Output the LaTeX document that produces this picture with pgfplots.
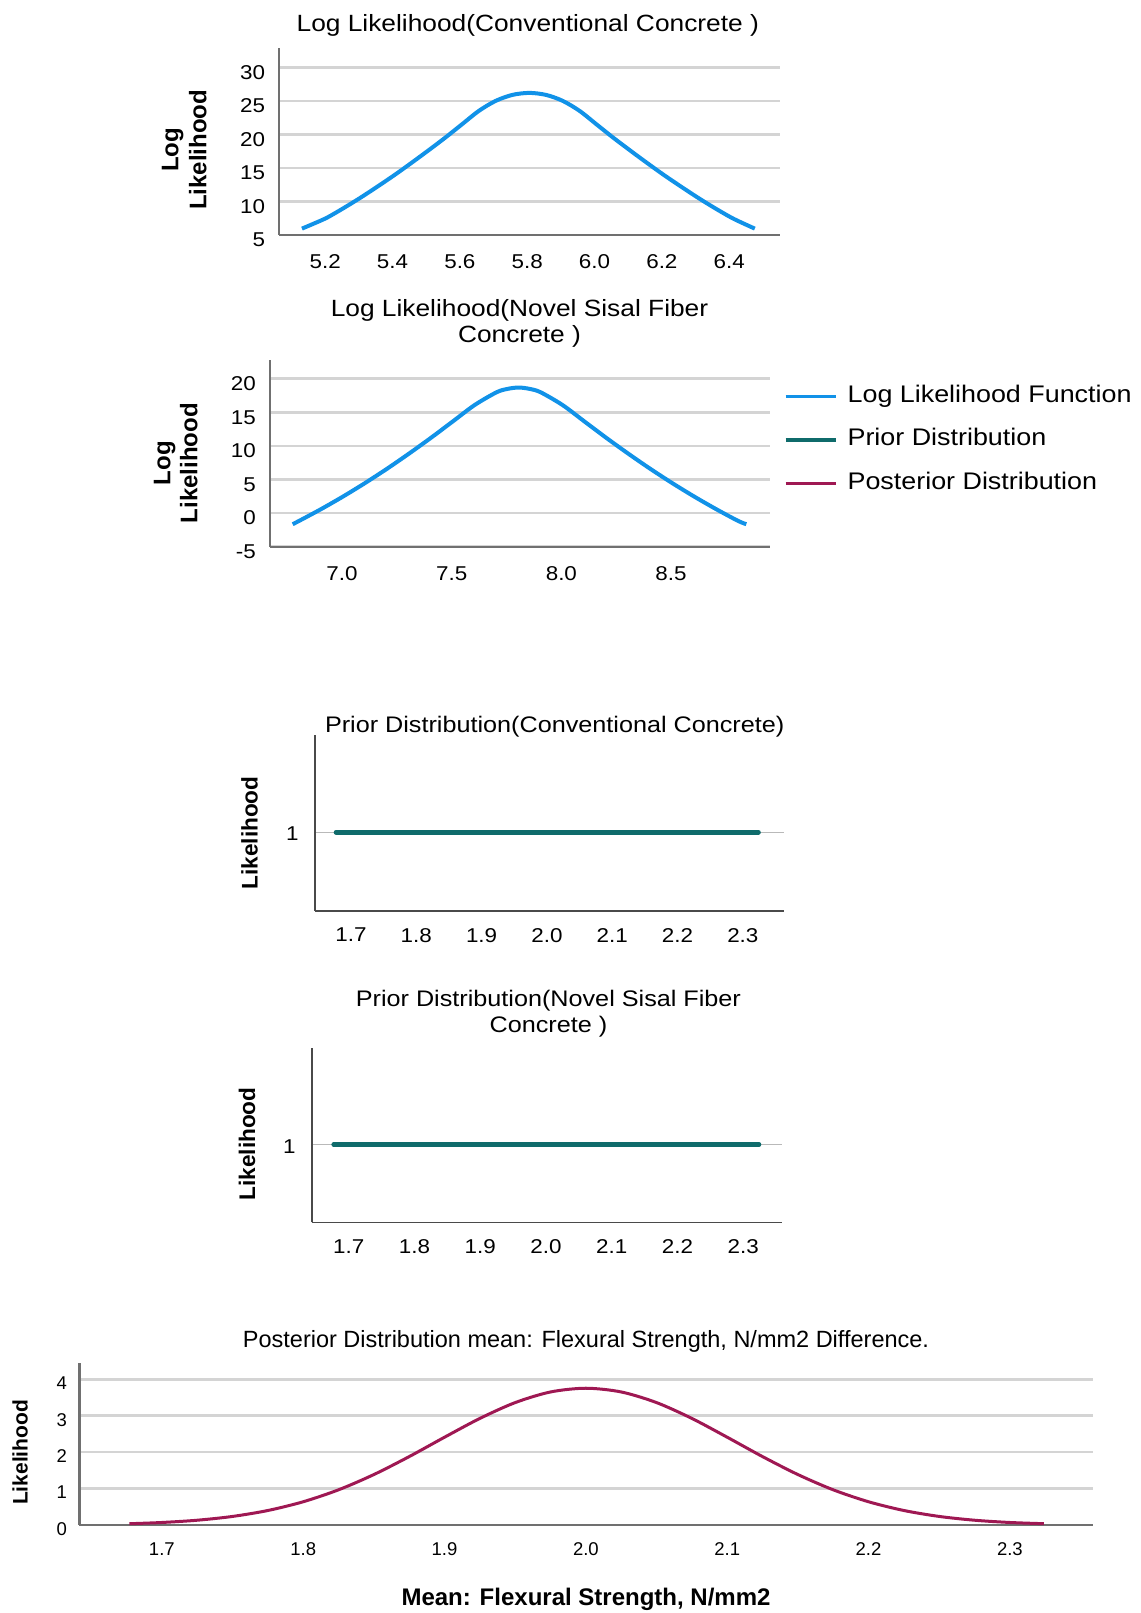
\documentclass[border=0pt]{standalone}
\usepackage{fontspec}
\setmainfont{Liberation Sans}
\newfontfamily\widefont{Liberation Sans}[FakeStretch=1.12]
\usepackage{pgfplots}
\pgfplotsset{compat=1.18}
\definecolor{llblue}{HTML}{1192E8}
\definecolor{priorteal}{HTML}{0F6B6B}
\definecolor{postmag}{HTML}{9F1853}
\definecolor{gridgray}{HTML}{D4D4D4}
\definecolor{axgray}{HTML}{707070}
\definecolor{axdark}{HTML}{4A4A4A}

\pgfplotsset{
  spss/.style={
    scale only axis, anchor=south west,
    axis x line=bottom, axis y line=left,
    axis line style={axgray, line width=1pt, -},
    major tick length=0pt,
    ymajorgrids, grid style={gridgray, line width=1.3pt},
    /pgf/number format/assume math mode=true,
    xticklabel style={/pgf/number format/fixed, /pgf/number format/fixed zerofill, /pgf/number format/precision=1},
    clip=false,
  },
  topfont/.style={ticklabel style={font=\widefont\fontsize{10}{12}\selectfont},
    xticklabel style={yshift=-6.4pt}, yticklabel style={yshift=-2.5pt, xshift=-3.4pt}},
  priorfont/.style={ticklabel style={font=\widefont\fontsize{10}{12}\selectfont},
    xticklabel style={yshift=-5.2pt}, yticklabel style={xshift=-4.6pt, yshift=-0.8pt},
    axis line style={axdark, line width=0.9pt, -},
    grid style={gray!55, line width=0.6pt}},
}

\begin{document}
\begin{tikzpicture}
\useasboundingbox (0,0) rectangle (570.5pt,806.5pt);

% ---------- Chart 1: Log likelihood, conventional concrete
\begin{axis}[spss, topfont, at={(139.45pt,689pt)}, width=250.4pt, height=93.5pt,
  xmin=5.0625, xmax=6.55, ymin=5, ymax=32.9,
  xtick={5.2,5.4,5.6,5.8,6.0,6.2,6.4}, ytick={5,10,15,20,25,30}]
\addplot[llblue, line width=2pt, smooth, tension=0.5] coordinates {
(5.131,5.95) (5.1685,6.75) (5.206,7.6) (5.256,9.05) (5.306,10.6) (5.356,12.25)
(5.406,13.95) (5.456,15.75) (5.506,17.6) (5.556,19.5) (5.606,21.5) (5.656,23.5)
(5.706,25.0) (5.756,25.9) (5.806,26.2) (5.856,25.9) (5.906,25.0) (5.956,23.5)
(6.006,21.5) (6.056,19.5) (6.106,17.6) (6.156,15.75) (6.206,13.95) (6.256,12.25)
(6.306,10.6) (6.356,9.05) (6.406,7.6) (6.441,6.75) (6.476,5.95)};
\end{axis}

% ---------- Chart 2: Log likelihood, novel sisal fiber concrete
\begin{axis}[spss, topfont, at={(134.8pt,533.15pt)}, width=250.2pt, height=93.35pt,
  xmin=6.67, xmax=8.951, ymin=-5, ymax=22.8,
  xtick={7.0,7.5,8.0,8.5}, ytick={-5,0,5,10,15,20},
  legend style={at={(1.027,0.866)}, anchor=north west, draw=none, fill=none,
    inner sep=0pt, row sep=10.75pt, column sep=5.25pt,
    nodes={inner sep=0pt, text height=8.5pt, text depth=2.5pt,
      font=\widefont\fontsize{12}{14}\selectfont}},
  legend cell align=left,
  legend image code/.code={\draw[#1, line width=1.6pt] (0pt,0pt) -- (25pt,0pt);}]
\addplot[llblue, line width=2pt, smooth, tension=0.5] coordinates {
(6.775,-1.65) (6.805,-1.15) (6.905,0.6) (7.005,2.475) (7.105,4.475) (7.205,6.6)
(7.305,8.85) (7.405,11.2) (7.505,13.65) (7.605,16.1) (7.705,18.0) (7.755,18.5)
(7.805,18.7) (7.855,18.5) (7.905,18.0) (8.005,16.1) (8.105,13.65) (8.205,11.2)
(8.305,8.85) (8.405,6.6) (8.505,4.475) (8.605,2.475) (8.705,0.6) (8.805,-1.15)
(8.843,-1.65)};
\addlegendentry{Log Likelihood Function}
\addlegendimage{priorteal}
\addlegendentry{Prior Distribution}
\addlegendimage{postmag}
\addlegendentry{Posterior Distribution}
\end{axis}

% ---------- Chart 3: Prior, conventional concrete
\begin{axis}[spss, priorfont, at={(157.4pt,351.15pt)}, width=234.6pt, height=87.85pt,
  xmin=1.6446, xmax=2.363, ymin=0.5, ymax=1.62,
  xtick={1.7,1.8,1.9,2.0,2.1,2.2,2.3}, ytick={1}]
\addplot[priorteal, line width=2.3pt, line cap=round] coordinates {(1.677,1) (2.324,1)};
\end{axis}

% ---------- Chart 4: Prior, novel sisal fiber concrete
\begin{axis}[spss, priorfont, at={(155.9pt,195.25pt)}, width=235.1pt, height=87.25pt,
  xmin=1.6437, xmax=2.359, ymin=0.5, ymax=1.62,
  xtick={1.7,1.8,1.9,2.0,2.1,2.2,2.3}, ytick={1}]
\addplot[priorteal, line width=2.3pt, line cap=round] coordinates {(1.677,1) (2.324,1)};
\end{axis}

% ---------- Chart 5: Posterior distribution
\begin{axis}[spss, at={(39.65pt,44pt)}, width=507pt, height=80.85pt,
  xmin=1.6416, xmax=2.359, ymin=0, ymax=4.44,
  xtick={1.7,1.8,1.9,2.0,2.1,2.2,2.3}, ytick={0,1,2,3,4},
  ticklabel style={font=\fontsize{9.25}{11}\selectfont},
  xticklabel style={yshift=-5.3pt}, yticklabel style={yshift=-2pt, xshift=-2.7pt},
  axis line style={axgray, line width=1.3pt, -}]
\addplot[postmag, line width=1.5pt, smooth] coordinates {
(1.677,0.035) (1.70,0.069) (1.725,0.131) (1.75,0.235) (1.775,0.398)
(1.80,0.638) (1.825,0.966) (1.85,1.385) (1.875,1.878) (1.90,2.410)
(1.925,2.926) (1.95,3.361) (1.975,3.653) (2.00,3.755) (2.025,3.653)
(2.05,3.361) (2.075,2.926) (2.10,2.410) (2.125,1.878) (2.15,1.385)
(2.175,0.966) (2.20,0.638) (2.225,0.398) (2.25,0.235) (2.275,0.131)
(2.30,0.069) (2.324,0.036)};
\end{axis}

% ---------- Titles and axis labels
\node[font=\widefont\fontsize{11.75}{14}\selectfont] at (263.9pt,794pt)
  {Log Likelihood(Conventional Concrete )};
\node[font=\widefont\fontsize{11.75}{13.35}\selectfont, align=center] at (259.75pt,644.8pt)
  {Log Likelihood(Novel Sisal Fiber\\Concrete )};
\node[font=\widefont\fontsize{11.25}{13.5}\selectfont] at (277.35pt,443.3pt)
  {Prior Distribution(Conventional Concrete)};
\node[font=\widefont\fontsize{11.25}{12.75}\selectfont, align=center] at (274.2pt,299.6pt)
  {Prior Distribution(Novel Sisal Fiber\\Concrete )};
\node[font=\fontsize{11.75}{14}\selectfont] at (293pt,135.65pt)
  {Posterior Distribution mean: Flexural Strength, N/mm2 Difference.};
\node[font=\bfseries\fontsize{12}{14}\selectfont] at (293pt,7pt)
  {Mean: Flexural Strength, N/mm2};

\node[font=\bfseries\fontsize{12}{14}\selectfont, align=center, rotate=90] at (92.1pt,731.5pt)
  {Log\\Likelihood};
\node[font=\bfseries\fontsize{12}{13.5}\selectfont, align=center, rotate=90] at (87.9pt,574.85pt)
  {Log\\Likelihood};
\node[font=\bfseries\fontsize{11.3}{13}\selectfont, rotate=90] at (124.8pt,390pt) {Likelihood};
\node[font=\bfseries\fontsize{11.3}{13}\selectfont, rotate=90] at (123.5pt,234.5pt) {Likelihood};
\node[font=\bfseries\fontsize{10.5}{12}\selectfont, rotate=90] at (10pt,80.25pt) {Likelihood};
\end{tikzpicture}
\end{document}
